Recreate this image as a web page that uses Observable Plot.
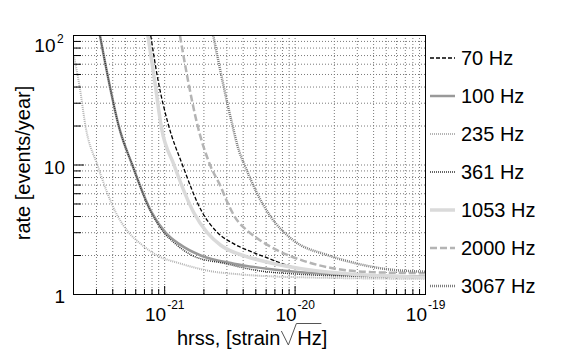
<!DOCTYPE html>
<html><head><meta charset="utf-8">
<script src="https://cdn.jsdelivr.net/npm/d3@7"></script>
<script src="https://cdn.jsdelivr.net/npm/@observablehq/plot@0.6"></script>
<style>
body{margin:0;background:#fff;}
#chart{position:relative;width:567px;height:354px;}
</style>
</head><body><div id="chart"></div>
<script>
// ---- data ----
const series = ["70 Hz","100 Hz","235 Hz","361 Hz","1053 Hz","2000 Hz","3067 Hz"];

const hrss70 = [7.82e-22, 8.9e-22, 1.06e-21, 1.37e-21, 1.92e-21, 2.55e-21, 3.40e-21, 4.56e-21, 5.64e-21, 8.17e-21, 1.10e-20, 1.77e-20, 3.01e-20, 1e-19];
const rate70 = [100, 45, 21, 10, 4.4, 3.0, 2.46, 2.15, 1.98, 1.72, 1.58, 1.48, 1.42, 1.37];

const hrss100 = [3.19e-22, 3.72e-22, 4.47e-22, 5.65e-22, 7.81e-22, 1.02e-21, 1.29e-21, 1.89e-21, 3.40e-21, 6.12e-21, 1.0e-20, 3.18e-20, 1e-19];
const rate100 = [100, 45, 19.6, 10, 4.45, 3.0, 2.46, 2.0, 1.73, 1.58, 1.50, 1.41, 1.38];

const hrss235 = [2.01e-22, 2.23e-22, 2.48e-22, 3.05e-22, 4.22e-22, 5.32e-22, 6.55e-22, 8.79e-22, 1.33e-21, 2.12e-21, 3.82e-21, 1.04e-20, 1e-19];
const rate235 = [70, 40, 19.6, 10, 4.3, 3.0, 2.46, 2.0, 1.73, 1.53, 1.43, 1.36, 1.32];

const hrss361 = [3.19e-22, 3.72e-22, 4.47e-22, 5.65e-22, 7.75e-22, 9.88e-22, 1.21e-21, 1.63e-21, 2.93e-21, 5.18e-21, 1.0e-20, 3.18e-20, 1e-19];
const rate361 = [100, 45, 19.6, 10, 4.45, 3.0, 2.46, 2.0, 1.73, 1.53, 1.44, 1.38, 1.35];

const hrss1053 = [7.44e-22, 8.38e-22, 9.43e-22, 1.18e-21, 1.67e-21, 2.12e-21, 2.69e-21, 4.18e-21, 5.44e-21, 1.39e-20, 3.18e-20, 1e-19];
const rate1053 = [100, 45, 19.6, 10, 4.3, 3.0, 2.4, 1.97, 1.83, 1.53, 1.42, 1.36];

const hrss2000 = [1.31e-21, 1.51e-21, 1.78e-21, 2.23e-21, 2.69e-21, 3.04e-21, 3.44e-21, 4.32e-21, 4.98e-21, 7.34e-21, 1.16e-20, 3.79e-20, 1e-19];
const rate2000 = [100, 45, 20.5, 10, 6.8, 5.1, 4.0, 3.1, 2.77, 2.19, 1.82, 1.49, 1.46];

const hrss3067 = [2.36e-21, 2.77e-21, 3.32e-21, 3.71e-21, 4.10e-21, 5.13e-21, 6.49e-21, 9.57e-21, 1.81e-20, 3.00e-20, 4.79e-20, 1e-19];
const rate3067 = [100, 45, 20, 12.9, 10, 6, 4, 2.65, 2.0, 1.73, 1.58, 1.5];

const xMajorTicks = [1e-21, 1e-20, 1e-19];
const xMajorExponents = ["-21", "-20", "-19"];
const yTickValues = [1, 10];
const yTickLabels = ["1", "10"];
const yTopTick = [100];
const yTopExponent = ["2"];
const xTitle = ["hrss, [strain", "Hz]"];
const yTitle = "rate [events/year]";

// ---- styles ----
const styles = {
  "70 Hz":   {stroke:"#000000", width:1.3, dash:"4,2"},
  "100 Hz":  {stroke:"#999999", width:2.5, dash:null},
  "235 Hz":  {stroke:"#b4b4b4", width:2,   dash:"1,1"},
  "361 Hz":  {stroke:"#333333", width:1.5, dash:"1,1"},
  "1053 Hz": {stroke:"#dadada", width:3.5, dash:null},
  "2000 Hz": {stroke:"#b4b4b4", width:2.5, dash:"7,3"},
  "3067 Hz": {stroke:"#7c7c7c", width:2.5, dash:"1,1"}
};

const hs = [hrss70, hrss100, hrss235, hrss361, hrss1053, hrss2000, hrss3067];
const rs = [rate70, rate100, rate235, rate361, rate1053, rate2000, rate3067];
const rows = series.flatMap((s, i) => hs[i].map((h, j) => ({series: s, hrss: h, rate: rs[i][j]})));

// grid/tick positions: multiples 1..9 of each decade
const mult = [1,2,3,4,5,6,7,8,9];
const xGrid = [-22,-21,-20].flatMap(e => mult.map(m => m * Math.pow(10, e))).filter(v => v > 2.05e-22 && v < 0.99e-19);
const yGrid = [0,1].flatMap(e => mult.map(m => m * Math.pow(10, e))).filter(v => v > 1.01 && v < 99);
const xMinor = xGrid.filter(v => !xMajorTicks.some(t => Math.abs(v/t - 1) < 1e-6));
const yMinor = yGrid.filter(v => v !== 10);

const W = 567, H = 354, mL = 73, mR = 142, mT = 35, mB = 60;
const fw = W - mL - mR, fh = H - mT - mB;
const font = "'Liberation Sans', Arial, Helvetica, sans-serif";

const lineMarks = series.map(s => Plot.line(rows.filter(d => d.series === s), {
  x: "hrss", y: "rate", stroke: styles[s].stroke, strokeWidth: styles[s].width,
  strokeDasharray: styles[s].dash || undefined, strokeLinecap: "butt", strokeLinejoin: "miter",
  curve: "monotone-x", clip: true
}));

const svg = Plot.plot({
  width: W, height: H,
  marginLeft: mL, marginRight: mR, marginTop: mT, marginBottom: mB,
  x: {type: "log", domain: [2e-22, 1e-19], axis: null},
  y: {type: "log", domain: [1, 100], axis: null},
  style: {fontFamily: font, background: "white", overflow: "visible", color: "black"},
  marks: [
    Plot.ruleX(xGrid, {stroke: "#7a7a7a", strokeDasharray: "1,2", strokeWidth: 1}),
    Plot.ruleY(yGrid, {stroke: "#7a7a7a", strokeDasharray: "1,2", strokeWidth: 1}),
    ...lineMarks,
    Plot.ruleX(xMinor, {stroke: "black", strokeWidth: 1, insetTop: fh - 5}),
    Plot.ruleX(xMajorTicks.slice(0, 2), {stroke: "black", strokeWidth: 1, insetTop: fh - 8}),
    Plot.ruleY(yMinor, {stroke: "black", strokeWidth: 1, insetRight: fw - 8}),
    Plot.ruleY([10], {stroke: "black", strokeWidth: 1, insetRight: fw - 11}),
    Plot.frame({stroke: "black", strokeWidth: 1}),
    Plot.text(xMajorTicks, {x: d => d, frameAnchor: "bottom", text: () => "10", textAnchor: "end",
      dx: 1.5, dy: 20, fontSize: 19, lineAnchor: "middle", fill: "black"}),
    Plot.text(xMajorTicks, {x: d => d, frameAnchor: "bottom", text: (d, i) => xMajorExponents[i], textAnchor: "start",
      dx: 2.5, dy: 11, fontSize: 12, lineAnchor: "middle", fill: "black"}),
    Plot.text(yTickValues, {y: d => d, frameAnchor: "left", text: (d, i) => yTickLabels[i], textAnchor: "end",
      dx: -8.5, dy: 2.5, fontSize: 19, lineAnchor: "middle", fill: "black"}),
    Plot.text(yTopTick, {y: d => d, frameAnchor: "left", text: () => "10", textAnchor: "end",
      dx: -18, dy: 10, fontSize: 19, lineAnchor: "middle", fill: "black"}),
    Plot.text(yTopTick, {y: d => d, frameAnchor: "left", text: (d, i) => yTopExponent[i], textAnchor: "start",
      dx: -16.5, dy: 3.5, fontSize: 12, lineAnchor: "middle", fill: "black"})
  ]
});
document.getElementById("chart").appendChild(svg);

const g = d3.select(svg).append("g").attr("font-family", font).attr("fill", "black").attr("text-anchor", "start");

// y title
g.append("text").attr("transform", "translate(29.5,163) rotate(-90)")
  .attr("text-anchor", "middle").attr("font-size", 20).text(yTitle);

// x title with radical
const t1 = g.append("text").attr("x", 177).attr("y", 345).attr("font-size", 20).text(xTitle[0]);
const w1 = t1.node().getComputedTextLength();
const rx = 177 + w1 + 1;
const t2 = g.append("text").attr("x", rx + 16).attr("y", 345).attr("font-size", 20).text(xTitle[1]);
const w2 = t2.node().getComputedTextLength();
g.append("path").attr("d", `M${rx},331 L${rx+7},345 L${rx+15},323.5 L${rx + 16 + w2 - 6},323.5`)
  .attr("fill", "none").attr("stroke", "#555").attr("stroke-width", 1);

// legend
series.forEach((s, i) => {
  const cy = 58 + i * 38;
  const st = styles[s];
  g.append("line").attr("x1", 430).attr("x2", 455).attr("y1", cy).attr("y2", cy)
    .attr("stroke", st.stroke).attr("stroke-width", st.width)
    .attr("stroke-dasharray", st.dash || null);
  g.append("text").attr("x", 461).attr("y", cy + 7).attr("font-size", 20).text(s);
});
</script>
</body></html>
